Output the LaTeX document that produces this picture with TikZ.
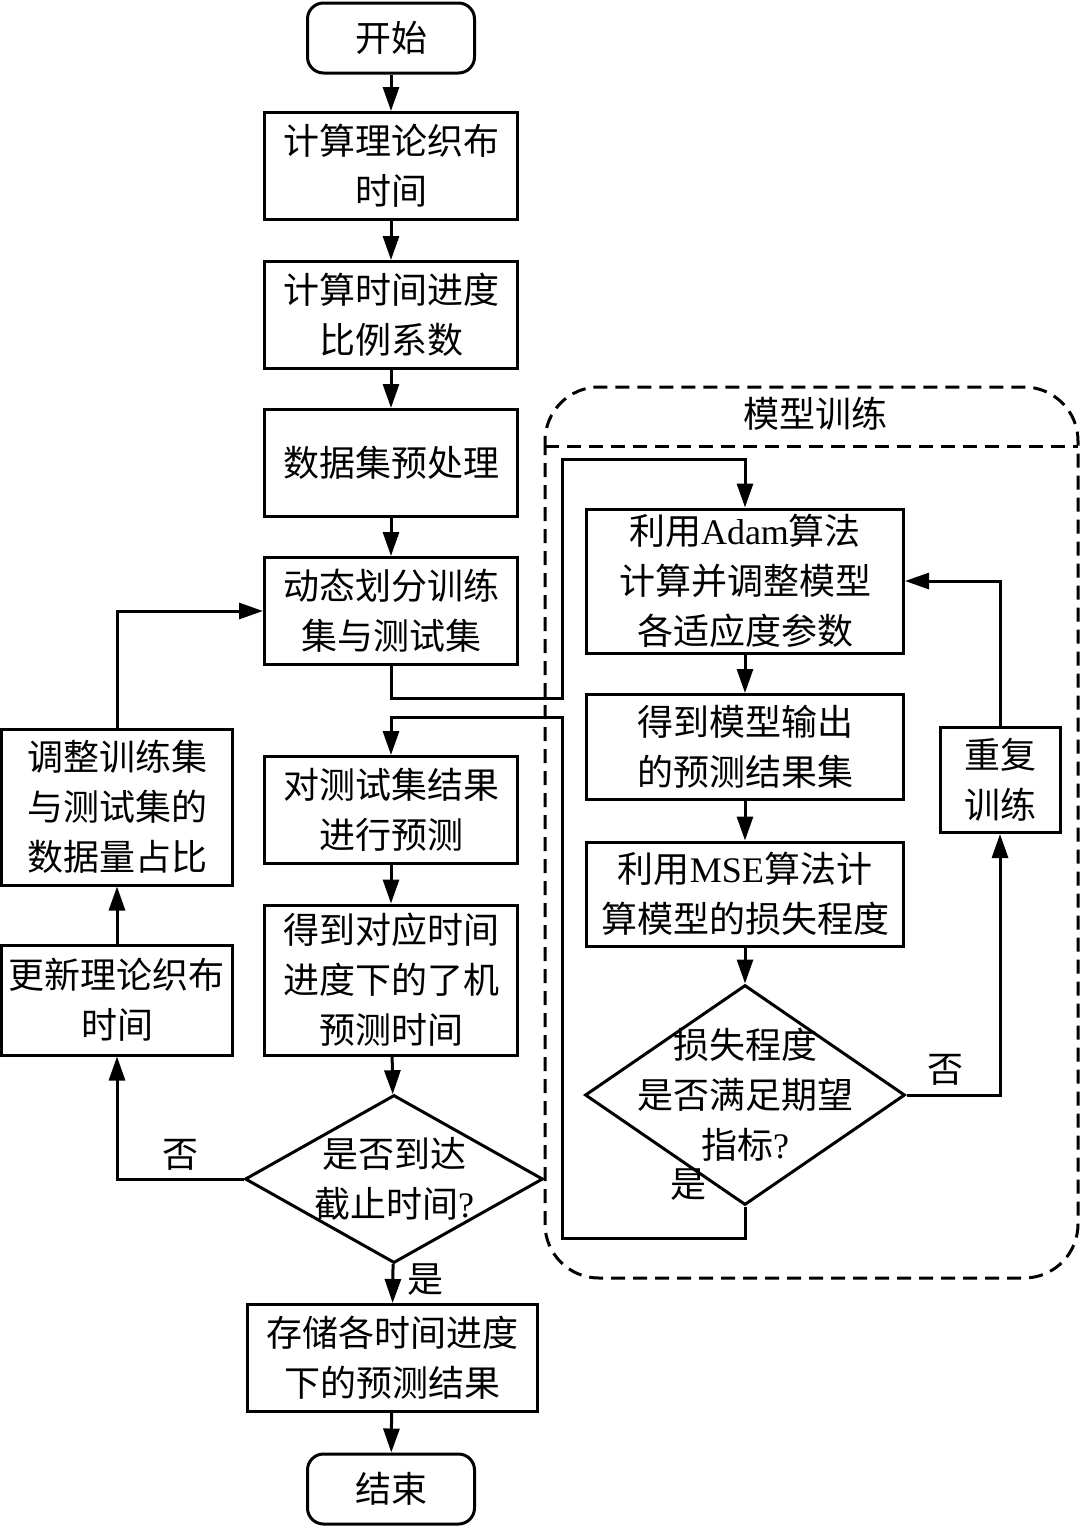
\documentclass[tikz,border=0pt]{standalone}
\usepackage{fontspec}
\setmainfont{Noto Sans CJK SC}
\newfontfamily\latin{Liberation Serif}
\usetikzlibrary{shapes.geometric,arrows.meta}

\begin{document}
\begin{tikzpicture}[x=0.5pt,y=-0.5pt,
		font=\fontsize{18}{25}\selectfont, line width=1.5pt,
		rect/.style={shape=rectangle, draw=black, line width=1.5pt, align=center, inner sep=0pt, minimum width=126.5pt, minimum height=53.5pt},
		term/.style={rect, rounded corners=8pt, minimum width=83.5pt, minimum height=35pt},
		decision/.style={shape=diamond, draw=black, line width=1.5pt, inner sep=0pt},
		arrow/.style={-{Triangle[length=12pt,width=8pt]}, line width=1.5pt},
		group/.style={dash pattern=on 7pt off 4pt, line width=1.5pt}]
		\useasboundingbox (0,0) rectangle (1080,1526);
		% main column
		\node (start) at (391,38) [term] {开始};
		\node (theory) at (391,166) [rect] {计算理论织布\\时间};
		\node (ratio) at (391,315) [rect] {计算时间进度\\比例系数};
		\node (prep) at (391,463) [rect] {数据集预处理};
		\node (split) at (391,611) [rect] {动态划分训练\\集与测试集};
		\node (pred) at (391,810) [rect] {对测试集结果\\进行预测};
		\node (ptime) at (391,980) [rect, minimum height=75pt] {得到对应时间\\进度下的了机\\预测时间};
		\node (reach) at (394,1179) [decision, minimum width=149pt, minimum height=84pt,
			label={[align=center]center:是否到达\\截止时间{\latin ?}}] {};
		\node (store) at (392,1358) [rect, minimum width=145pt] {存储各时间进度\\下的预测结果};
		\node (stop) at (391,1489) [term] {结束};
		% left column
		\node (adjust) at (117,807) [rect, minimum width=115.5pt, minimum height=78pt] {调整训练集\\与测试集的\\数据量占比};
		\node (update) at (117,1000) [rect, minimum width=115.5pt, minimum height=55pt] {更新理论织布\\时间};
		% model training
		\draw[group, rounded corners=27pt] (545,387) rectangle (1078,1278);
		\draw[group] (545,446) -- (1078,446);
		\node (title) at (815,414) {模型训练};
		\node (adam) at (745,581) [rect, minimum width=158.5pt, minimum height=72pt] {利用{\latin Adam}算法\\计算并调整模型\\各适应度参数};
		\node (out) at (745,747) [rect, minimum width=158.5pt, minimum height=52.5pt] {得到模型输出\\的预测结果集};
		\node (mse) at (745,894) [rect, minimum width=158.5pt, minimum height=52pt] {利用{\latin MSE}算法计\\算模型的损失程度};
		\node (check) at (745,1095) [decision, minimum width=160pt, minimum height=110pt,
			label={[align=center]center:损失程度\\是否满足期望\\指标{\latin ?}}] {};
		\node (retrain) at (1000,780) [rect, minimum width=60pt, minimum height=52.5pt] {重复\\训练};
		\coordinate (lanein) at (562,459);
		\coordinate (laneout) at (562,717);
		% connectors
		\draw[arrow] (start) -- (theory);
		\draw[arrow] (theory) -- (ratio);
		\draw[arrow] (ratio) -- (prep);
		\draw[arrow] (prep) -- (split);
		\draw[arrow] (split.south) -- ++(0,32) -| (lanein) -| (adam.north);
		\draw[arrow] (adam) -- (out);
		\draw[arrow] (out) -- (mse);
		\draw[arrow] (mse) -- (check);
		\draw[arrow] (check.east) -| (retrain.south);
		\draw[arrow] (retrain.north) |- (adam.east);
		\draw[arrow] (check.south) -- ++(0,32) -| (laneout) -| (pred.north);
		\draw[arrow] (pred) -- (ptime);
		\draw[arrow] (ptime) -- (reach);
		\draw[arrow] (reach) -- (store);
		\draw[arrow] (store) -- (stop);
		\draw[arrow] (reach.west) -| (update.south);
		\draw[arrow] (update) -- (adjust);
		\draw[arrow] (adjust.north) |- (split.west);
		% labels
		\node (no1) at (180,1155) {否};
		\node (yes1) at (425,1280) {是};
		\node (no2) at (945,1070) {否};
		\node (yes2) at (688,1185) {是};
\end{tikzpicture}
\end{document}
